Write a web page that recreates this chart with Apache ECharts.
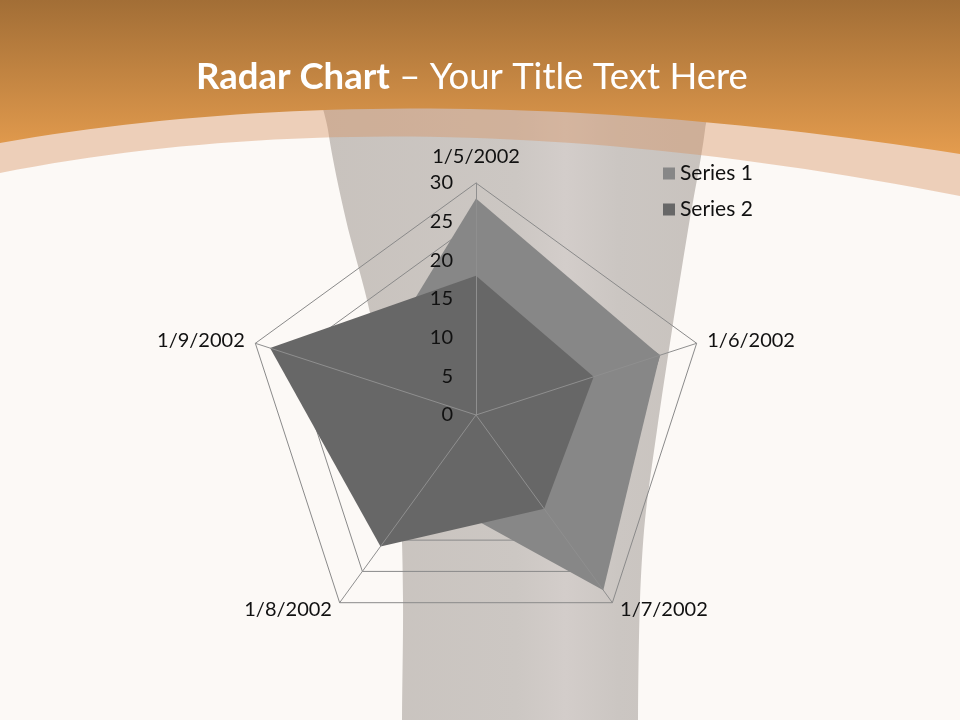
<!DOCTYPE html>
<html>
<head>
    <meta charset="utf-8">
    <script src="https://cdn.jsdelivr.net/npm/echarts@6/dist/echarts.min.js"></script>
    <style>
        html, body { margin: 0; padding: 0; background: #fcf9f6; }
        #chart { width: 960px; height: 720px; }
    </style>
</head>
<body>
    <div id="chart"></div>
<script type="text/javascript">
    // chart data
    var categories = ['1/5/2002', '1/6/2002', '1/7/2002', '1/8/2002', '1/9/2002'];
    var series1 = [28, 25, 28, 12, 15];
    var series2 = [18, 16, 15, 21, 28];
    var seriesNames = ['Series 1', 'Series 2'];
    var tickLabels = ['0', '5', '10', '15', '20', '25', '30'];

    var FONT = 'Lato, "Open Sans", sans-serif';
    var CX = 476, CY = 415, R = 232;

    // echarts lays radar axes out counter-clockwise, the slide goes clockwise
    function clockwise(arr) {
        return [arr[0]].concat(arr.slice(1).reverse());
    }

    var indicators = clockwise(categories).map(function (c) {
        return { name: c, min: 0, max: 30 };
    });

    // header shape: top of the page down to a quadratic curve (y0 left, cx/cy control, y1 right)
    function headerShape(y0, cx, cy, y1) {
        var pts = [[0, 0], [960, 0]];
        for (var i = 0; i <= 48; i++) {
            var t = 1 - i / 48;
            var x = 2 * (1 - t) * t * cx + t * t * 960;
            var y = (1 - t) * (1 - t) * y0 + 2 * (1 - t) * t * cy + t * t * y1;
            pts.push([x, y]);
        }
        return pts;
    }

    var myChart = echarts.init(document.getElementById('chart'));

    var option = {
        backgroundColor: '#fcf9f6',
        animation: false,
        graphic: [
            // the glass-like grey band behind the chart
            {
                type: 'polygon', z: -10, silent: true,
                shape: {
                    points: [[320, 40], [328, 130], [346, 220], [367, 300], [388, 400], [400, 500], [403, 600], [402, 720], [402, 900],
                             [638, 900], [638, 720], [640, 600], [645, 520], [657, 430], [672, 330], [688, 230], [705, 130], [712, 40]],
                    smooth: 0.3
                },
                style: {
                    fill: {
                        type: 'linear', x: 0, y: 0, x2: 1, y2: 0,
                        colorStops: [
                            { offset: 0, color: '#c8c2bd' },
                            { offset: 0.5, color: '#ccc7c3' },
                            { offset: 0.62, color: '#d3cdca' },
                            { offset: 0.75, color: '#cbc6c2' },
                            { offset: 1, color: '#c8c2bd' }
                        ]
                    }
                }
            },
            // light peach band under the orange header
            {
                type: 'polygon', z: -9, silent: true,
                shape: { points: headerShape(173, 420, 90, 196) },
                style: { fill: 'rgba(214,144,94,0.4)' }
            },
            // orange header
            {
                type: 'polygon', z: -8, silent: true,
                shape: { points: headerShape(143, 420, 69, 154) },
                style: {
                    fill: {
                        type: 'linear', x: 0, y: 0, x2: 0, y2: 1,
                        colorStops: [
                            { offset: 0, color: '#a26e36' },
                            { offset: 1, color: '#e49c4e' }
                        ]
                    }
                }
            },
            {
                type: 'text', z: 10, silent: true,
                left: 196, top: 59,
                style: {
                    text: '{b|Radar Chart}{n| – Your Title Text Here}',
                    rich: {
                        b: { fontFamily: FONT, fontSize: 36.5, fontWeight: 'bold', fill: '#ffffff' },
                        n: { fontFamily: FONT, fontSize: 36.5, fontWeight: 'normal', fill: '#ffffff' }
                    }
                }
            }
        ],
        legend: {
            data: seriesNames,
            orient: 'vertical',
            left: 663,
            top: 163,
            padding: 0,
            itemWidth: 12,
            itemHeight: 12,
            itemGap: 15,
            icon: 'rect',
            textStyle: { fontFamily: FONT, fontSize: 21, color: '#111111' }
        },
        polar: { center: [CX, CY], radius: R },
        angleAxis: { show: false, startAngle: 90, min: 0, max: 360 },
        radiusAxis: {
            min: 0, max: 30, interval: 5,
            z: 10,
            axisLine: { show: false },
            axisTick: { show: false },
            splitLine: { show: false },
            axisLabel: {
                fontFamily: FONT, fontSize: 20, color: '#111111', margin: 23,
                formatter: function (v) { return tickLabels[Math.round(v / 5)]; }
            }
        },
        radar: [
            {
                center: [CX, CY], radius: R, startAngle: 90,
                shape: 'polygon', splitNumber: 6,
                indicator: indicators,
                axisName: { fontFamily: FONT, fontSize: 20, color: '#111111', padding: [5, 3, 8, 3] },
                nameGap: 8,
                axisLine: { show: false },
                axisTick: { show: false },
                axisLabel: { show: false },
                splitArea: { show: false },
                splitLine: { lineStyle: { color: '#8a8a8a', width: 1 } }
            },
            {
                // spokes drawn above the filled areas
                center: [CX, CY], radius: R, startAngle: 90,
                shape: 'polygon', splitNumber: 6,
                indicator: indicators,
                z: 5,
                axisName: { show: false },
                axisLine: { show: true, lineStyle: { color: '#8f8f8f', width: 1 } },
                axisTick: { show: false },
                axisLabel: { show: false },
                splitArea: { show: false },
                splitLine: { show: false }
            }
        ],
        series: [
            {
                type: 'radar',
                radarIndex: 0,
                symbol: 'none',
                data: [
                    {
                        name: seriesNames[0],
                        value: clockwise(series1),
                        itemStyle: { color: '#878787' },
                        lineStyle: { width: 0, color: '#878787' },
                        areaStyle: { color: '#878787', opacity: 1 }
                    },
                    {
                        name: seriesNames[1],
                        value: clockwise(series2),
                        itemStyle: { color: '#676767' },
                        lineStyle: { width: 0, color: '#676767' },
                        areaStyle: { color: '#676767', opacity: 1 }
                    }
                ]
            }
        ]
    };

    myChart.setOption(option);
</script>
</body>
</html>
